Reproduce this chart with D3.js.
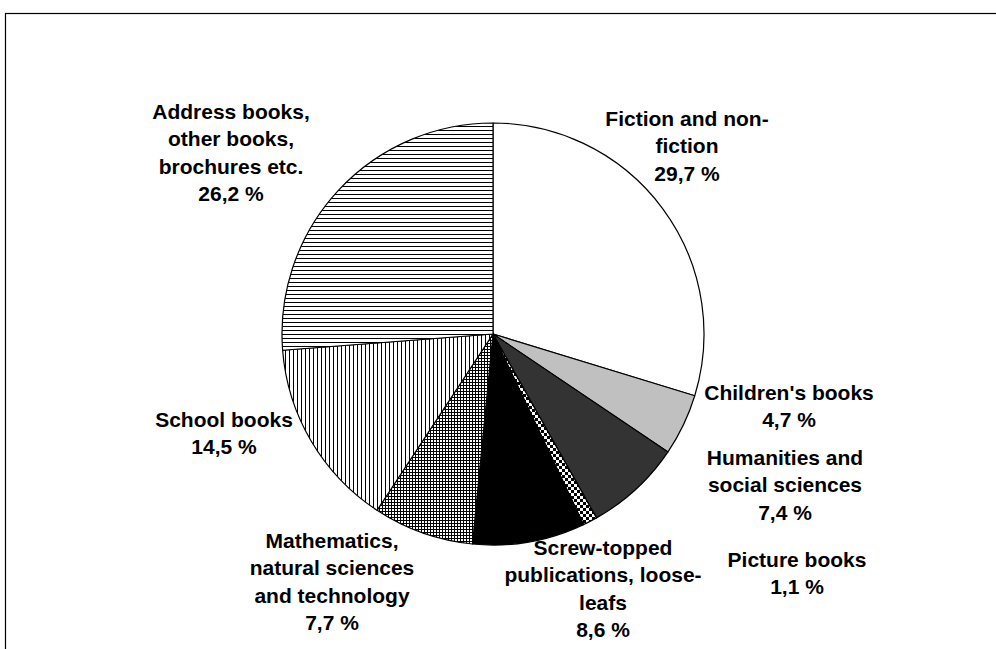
<!DOCTYPE html>
<html><head><meta charset="utf-8">
<script src="https://cdn.jsdelivr.net/npm/d3@7"></script>
<style>body{margin:0;background:#fff}svg{display:block}</style>
</head><body><svg id="c" width="996" height="649"></svg>
<script>
const categories = ["Fiction and non-fiction","Children's books","Humanities and social sciences","Picture books","Screw-topped publications, loose-leafs","Mathematics, natural sciences and technology","School books","Address books, other books, brochures etc."];
const values = [29.7, 4.7, 7.4, 1.1, 8.6, 7.7, 14.5, 26.2];
const valueLabels = ["29,7 %","4,7 %","7,4 %","1,1 %","8,6 %","7,7 %","14,5 %","26,2 %"];
const labelLines = [
  ["Fiction and non-","fiction"],
  ["Children's books"],
  ["Humanities and","social sciences"],
  ["Picture books"],
  ["Screw-topped","publications, loose-","leafs"],
  ["Mathematics,","natural sciences","and technology"],
  ["School books"],
  ["Address books,","other books,","brochures etc."]
];
// layout (label anchor: center x, first baseline y)
const labelAnchor = [[687,126],[789,400],[785,465],[797,567],[603,555],[332,548],[224,427],[231,119]];
const fills = ["#fff","#c0c0c0","#333333","url(#pCheck)","#000","url(#pGrid)","url(#pVert)","url(#pHoriz)"];

const svg = d3.select("#c");
const defs = svg.append("defs");
function pat(id,w,h,draw){const p=defs.append("pattern").attr("id",id).attr("patternUnits","userSpaceOnUse").attr("width",w).attr("height",h);p.append("rect").attr("width",w).attr("height",h).attr("fill","#fff");draw(p);}
pat("pHoriz",4,4,p=>p.append("rect").attr("x",0).attr("y",0).attr("width",4).attr("height",1).attr("fill","#000"));
pat("pVert",4,4,p=>p.append("rect").attr("x",0).attr("y",0).attr("width",1).attr("height",4).attr("fill","#000"));
pat("pGrid",3,3,p=>{p.append("rect").attr("width",3).attr("height",1).attr("fill","#000");p.append("rect").attr("width",1).attr("height",3).attr("fill","#000");});
pat("pCheck",6,6,p=>{p.append("rect").attr("width",3).attr("height",3).attr("fill","#000");p.append("rect").attr("x",3).attr("y",3).attr("width",3).attr("height",3).attr("fill","#000");});

svg.append("rect").attr("x",5.5).attr("y",13.5).attr("width",1100).attr("height",1000).attr("fill","none").attr("stroke","#000").attr("stroke-width",1.2);

const cx=493, cy=334, r=211;
const pie = d3.pie().sort(null).value(d=>d)(values);
const arc = d3.arc().innerRadius(0).outerRadius(r);
const g = svg.append("g").attr("transform",`translate(${cx},${cy})`);
g.selectAll("path").data(pie).join("path").attr("d",arc).attr("fill",(d,i)=>fills[i]).attr("stroke","#000").attr("stroke-width",1.2).attr("stroke-linejoin","round");

const lg = svg.append("g").attr("font-family","'Liberation Sans', Arial, sans-serif").attr("font-weight","bold").attr("font-size",21).attr("text-anchor","middle").attr("fill","#000");
categories.forEach((c,i)=>{
  const lines = labelLines[i].concat([valueLabels[i]]);
  const [x,y]=labelAnchor[i];
  const t = lg.append("text").attr("x",x).attr("y",y);
  lines.forEach((l,j)=>t.append("tspan").attr("x",x).attr("y",y+j*27.3).text(l));
});
</script></body></html>
